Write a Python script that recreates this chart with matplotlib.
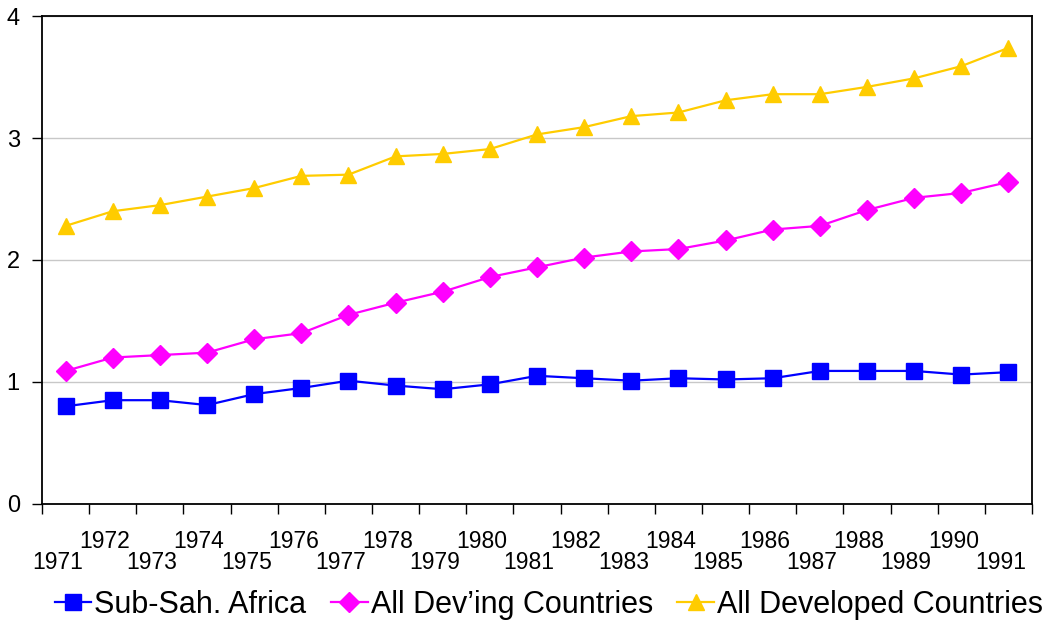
import matplotlib
matplotlib.use("Agg")
import matplotlib.pyplot as plt
import matplotlib.transforms as mtransforms
import numpy as np

plt.rcParams['font.family'] = ['Liberation Sans', 'DejaVu Sans']

# Datos
years = list(range(1971, 1992))
ssa = [0.80, 0.85, 0.85, 0.81, 0.90, 0.95, 1.01, 0.97, 0.94, 0.98, 1.05,
       1.03, 1.01, 1.03, 1.02, 1.03, 1.09, 1.09, 1.09, 1.06, 1.08]
deving = [1.09, 1.20, 1.22, 1.24, 1.35, 1.40, 1.55, 1.65, 1.74, 1.86, 1.94,
          2.02, 2.07, 2.09, 2.16, 2.25, 2.28, 2.41, 2.51, 2.55, 2.64]
developed = [2.28, 2.40, 2.45, 2.52, 2.59, 2.69, 2.70, 2.85, 2.87, 2.91, 3.03,
             3.09, 3.18, 3.21, 3.31, 3.36, 3.36, 3.42, 3.49, 3.59, 3.74]
series_names = ['Sub-Sah. Africa', 'All Dev\u2019ing Countries', 'All Developed Countries']

fig = plt.figure(figsize=(10.52, 6.22), dpi=100)
ax = fig.add_axes([0.040, 0.190, 0.941, 0.784])

x = np.arange(len(years))
ax.plot(x, ssa, color='#0000FF', lw=1.6, marker='s', ms=11, label=series_names[0])
ax.plot(x, deving, color='#FF00FF', lw=1.6, marker='D', ms=10.5, label=series_names[1])
ax.plot(x, developed, color='#FFCC00', lw=1.6, marker='^', ms=12, label=series_names[2])

ax.set_xlim(-0.5, len(years) - 0.5)
ax.set_ylim(0, 4)
ax.set_yticks([0, 1, 2, 3, 4])
ax.tick_params(axis='y', labelsize=17, length=7, width=1, direction='out', pad=9)
ax.grid(axis='y', color='#C8C8C8', lw=1.0)
ax.set_axisbelow(True)
for s in ax.spines.values():
    s.set_linewidth(1.3)

# marcas entre categorias
ax.set_xticks(np.arange(-0.5, len(years)), labels=[])
ax.tick_params(axis='x', which='major', length=7, width=1, direction='out')

shift = mtransforms.ScaledTranslation(-8 / 100, 0, fig.dpi_scale_trans)

# fila superior: anos pares
ax.set_xticks(x[1::2], minor=True)
ax.set_xticklabels([str(y) for y in years[1::2]], minor=True)
ax.tick_params(axis='x', which='minor', length=0, labelsize=16.5, pad=19)
for lbl in ax.get_xticklabels(minor=True):
    lbl.set_transform(lbl.get_transform() + shift)

# fila inferior: anos impares
sec = ax.secondary_xaxis('bottom')
sec.set_xticks(x[0::2], labels=[str(y) for y in years[0::2]])
sec.tick_params(axis='x', length=0, labelsize=16.5, pad=34)
sec.spines['bottom'].set_visible(False)
for lbl in sec.get_xticklabels():
    lbl.set_transform(lbl.get_transform() + shift)

ax.legend(loc='upper center', bbox_to_anchor=(0.512, -0.152), ncol=3, frameon=False,
          fontsize=22, handlelength=1.2, handletextpad=0.1, columnspacing=0.8,
          borderaxespad=0)

fig.savefig('out.png', dpi=100)
